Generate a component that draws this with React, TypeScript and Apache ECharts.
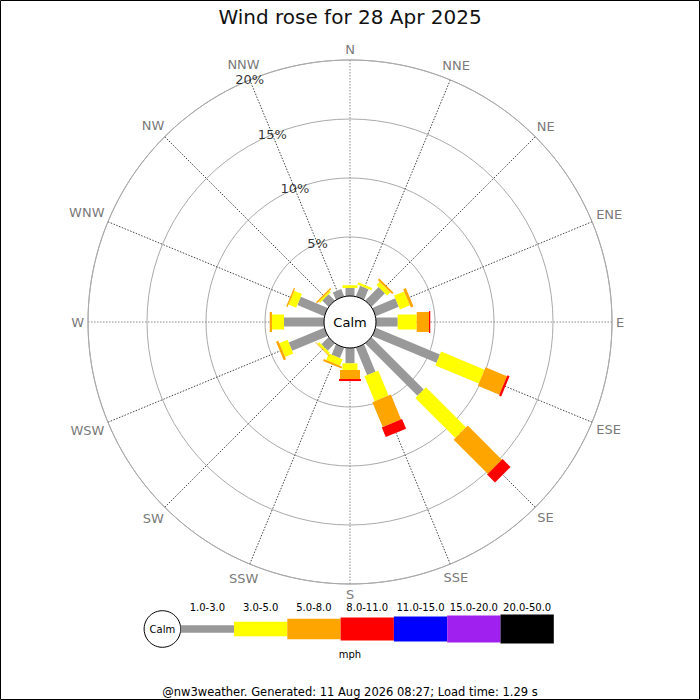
import React, { useEffect, useRef } from "react";
import * as echarts from "echarts";

// ---- data ----
const DIRECTIONS = ["N", "NNE", "NE", "ENE", "E", "ESE", "SE", "SSE", "S", "SSW", "SW", "WSW", "W", "WNW", "NW", "NNW"];
const SPEED_RANGES = ["1.0-3.0", "3.0-5.0", "5.0-8.0", "8.0-11.0", "11.0-15.0", "15.0-20.0", "20.0-50.0"];
const RANGE_COLORS = ["#999999", "#ffff00", "#ffa500", "#ff0000", "#0000ff", "#a020f0", "#000000"];
const PCT_TICKS = [5, 10, 15, 20];
const PCT_LABEL_ANGLE = 337.5;
const TITLE = "Wind rose for 28 Apr 2025";
const UNIT = "mph";
const CALM = "Calm";
const FOOTER = "@nw3weather. Generated: 11 Aug 2026 08:27; Load time: 1.29 s";

// percentage of time per direction, by speed range
const R_1_3 = [0.68, 0.97, 1.61, 2.11, 1.84, 5.89, 6.26, 2.52, 1.3, 0.95, 0.85, 3.26, 3.39, 2.47, 0.75, 0.67];
const R_3_5 = [0.23, 0.22, 0.38, 0.92, 1.61, 3.99, 4.8, 2.28, 0.56, 0.6, 0.2, 0.76, 1.02, 0.71, 0.15, 0];
const R_5_8 = [0, 0, 0.17, 0.24, 1.04, 1.97, 4.09, 2.28, 0.77, 0.17, 0.05, 0.21, 0.19, 0.12, 0.12, 0];
const R_8_11 = [0, 0, 0, 0, 0.11, 0.2, 0.96, 0.89, 0.17, 0, 0, 0, 0, 0, 0, 0];
const R_11_15 = [0, 0, 0, 0, 0, 0, 0, 0, 0, 0, 0, 0, 0, 0, 0, 0];
const R_15_20 = [0, 0, 0, 0, 0, 0, 0, 0, 0, 0, 0, 0, 0, 0, 0, 0];
const R_20_50 = [0, 0, 0, 0, 0, 0, 0, 0, 0, 0, 0, 0, 0, 0, 0, 0];
const RADIUS_MAX = 20;

// ---- layout ----
const FONT = "DejaVu Sans";
const CX = 350;
const CY = 322;
const R_INNER = 26;
const R_OUTER = 262;
const BAR_WIDTHS = [9, 15, 20, 22, 24, 26, 28];
const DIR_FONT = 13;
const DIR_GAP = 4;
const LEG_X0 = 180.7;
const LEG_SEG = 53.3;
const LEG_CY = 629;
const LEG_H = [7.7, 14.3, 20.3, 23, 25, 27, 29];

function measure(text: string, size: number): number {
  const c = document.createElement("canvas").getContext("2d");
  if (!c) return text.length * size * 0.7;
  c.font = `${size}px "${FONT}"`;
  return c.measureText(text).width;
}

function App() {
  const ref = useRef<HTMLDivElement>(null);
  useEffect(() => {
    if (!ref.current) return;
    const chart = echarts.init(ref.current, null, { renderer: "svg" });
    const ranges = [R_1_3, R_3_5, R_5_8, R_8_11, R_11_15, R_15_20, R_20_50];
    const step = 360 / DIRECTIONS.length;
    const items: number[][] = [];
    DIRECTIONS.forEach((_, i) => {
      let cum = 0;
      ranges.forEach((arr, s) => {
        const v = arr[i];
        if (v > 0) {
          items.push([cum, i * step, cum + v, s]);
          cum += v;
        }
      });
    });
    const pxPerUnit = (R_OUTER - R_INNER) / RADIUS_MAX;
    const dirLabels = DIRECTIONS.map((name, i) => {
      const a = (i * step * Math.PI) / 180;
      const hw = measure(name, DIR_FONT) / 2;
      const hh = DIR_FONT / 2;
      const off = DIR_GAP + Math.abs(Math.sin(a)) * hw + Math.abs(Math.cos(a)) * hh;
      return { value: [RADIUS_MAX + off / pxPerUnit, i * step], name };
    });

    const txt = (text: string, x: number, y: number, size: number, fill = "#000", z = 0) => ({
      type: "text",
      x,
      y,
      z,
      style: { text, fill, font: `${size}px "${FONT}"`, textAlign: "center", textVerticalAlign: "middle" },
    });

    const graphics: any[] = [
      {
        type: "rect",
        shape: { x: 0.5, y: 0.5, width: 699, height: 699 },
        style: { fill: "none", stroke: "#000", lineWidth: 1 },
        z: 200,
      },
      {
        type: "circle",
        shape: { cx: CX, cy: CY, r: R_INNER },
        style: { fill: "#fff", stroke: "#000", lineWidth: 1 },
        z: 100,
      },
      txt(CALM, CX, CY, 13, "#000", 101),
      txt(TITLE, 350, 17, 20, "#111"),
      txt(FOOTER, 350, 692, 11.5),
      txt(UNIT, 350, 654, 10),
      {
        type: "circle",
        shape: { cx: LEG_X0 - 18.3, cy: LEG_CY, r: 18.3 },
        style: { fill: "#fff", stroke: "#000", lineWidth: 1 },
      },
      txt(CALM, LEG_X0 - 18.3, LEG_CY, 10),
    ];
    SPEED_RANGES.forEach((lab, i) => {
      const x = LEG_X0 + i * LEG_SEG;
      graphics.push({
        type: "rect",
        shape: { x, y: LEG_CY - LEG_H[i] / 2, width: LEG_SEG, height: LEG_H[i] },
        style: { fill: RANGE_COLORS[i] },
      });
      graphics.push(txt(lab, x + LEG_SEG / 2, 607, 10));
    });

    chart.setOption({
      animation: false,
      backgroundColor: "#fff",
      textStyle: { fontFamily: FONT },
      polar: { center: [CX, CY], radius: [R_INNER, R_OUTER] },
      angleAxis: {
        type: "value",
        min: 0,
        max: 360,
        interval: step,
        startAngle: 90,
        clockwise: true,
        axisLine: { show: true, lineStyle: { color: "#aaa", width: 1 } },
        axisTick: { show: false },
        splitLine: {
          show: true,
          lineStyle: { color: ["#888", "#444", "#444", "#444"], width: 1, type: [1.5, 1.5] },
        },
        axisLabel: { show: false },
      },
      radiusAxis: {
        type: "value",
        min: 0,
        max: RADIUS_MAX,
        interval: 5,
        axisLine: { show: false },
        axisTick: { show: false },
        axisLabel: { show: false },
        splitLine: { show: true, lineStyle: { color: "#aaa", width: 1 } },
      },
      series: [
        {
          type: "custom",
          coordinateSystem: "polar",
          data: items,
          encode: { radius: [0, 2], angle: 1 },
          silent: true,
          z: 5,
          renderItem: (params: any, api: any) => {
            const r0 = api.value(0);
            const a = api.value(1);
            const r1 = api.value(2);
            const s = api.value(3);
            const p0 = api.coord([r0, a]);
            const p1 = api.coord([r1, a]);
            const rad = (a * Math.PI) / 180;
            const px = Math.cos(rad);
            const py = Math.sin(rad);
            const hw = BAR_WIDTHS[s] / 2;
            return {
              type: "polygon",
              shape: {
                points: [
                  [p0[0] + px * hw, p0[1] + py * hw],
                  [p1[0] + px * hw, p1[1] + py * hw],
                  [p1[0] - px * hw, p1[1] - py * hw],
                  [p0[0] - px * hw, p0[1] - py * hw],
                ],
              },
              style: { fill: RANGE_COLORS[s], stroke: null },
            };
          },
        },
        {
          type: "scatter",
          coordinateSystem: "polar",
          data: PCT_TICKS.map((p) => [p, PCT_LABEL_ANGLE]),
          symbolSize: 1,
          itemStyle: { color: "transparent" },
          silent: true,
          clip: false,
          z: 10,
          label: {
            show: true,
            position: "inside",
            color: "#000",
            textBorderWidth: 0,
            fontSize: 13,
            fontFamily: FONT,
            formatter: (p: any) => p.value[0] + "%",
          },
        },
        {
          type: "scatter",
          coordinateSystem: "polar",
          data: dirLabels,
          symbolSize: 1,
          itemStyle: { color: "transparent" },
          silent: true,
          clip: false,
          z: 9,
          label: {
            show: true,
            position: "inside",
            color: "#555",
            textBorderWidth: 0,
            fontSize: DIR_FONT,
            fontFamily: FONT,
            formatter: (p: any) => p.name,
          },
        },
      ],
      graphic: graphics,
    });
    return () => chart.dispose();
  }, []);
  return <div ref={ref} style={{ position: "fixed", left: 0, top: 0, width: 700, height: 700 }} />;
}

export default App;
